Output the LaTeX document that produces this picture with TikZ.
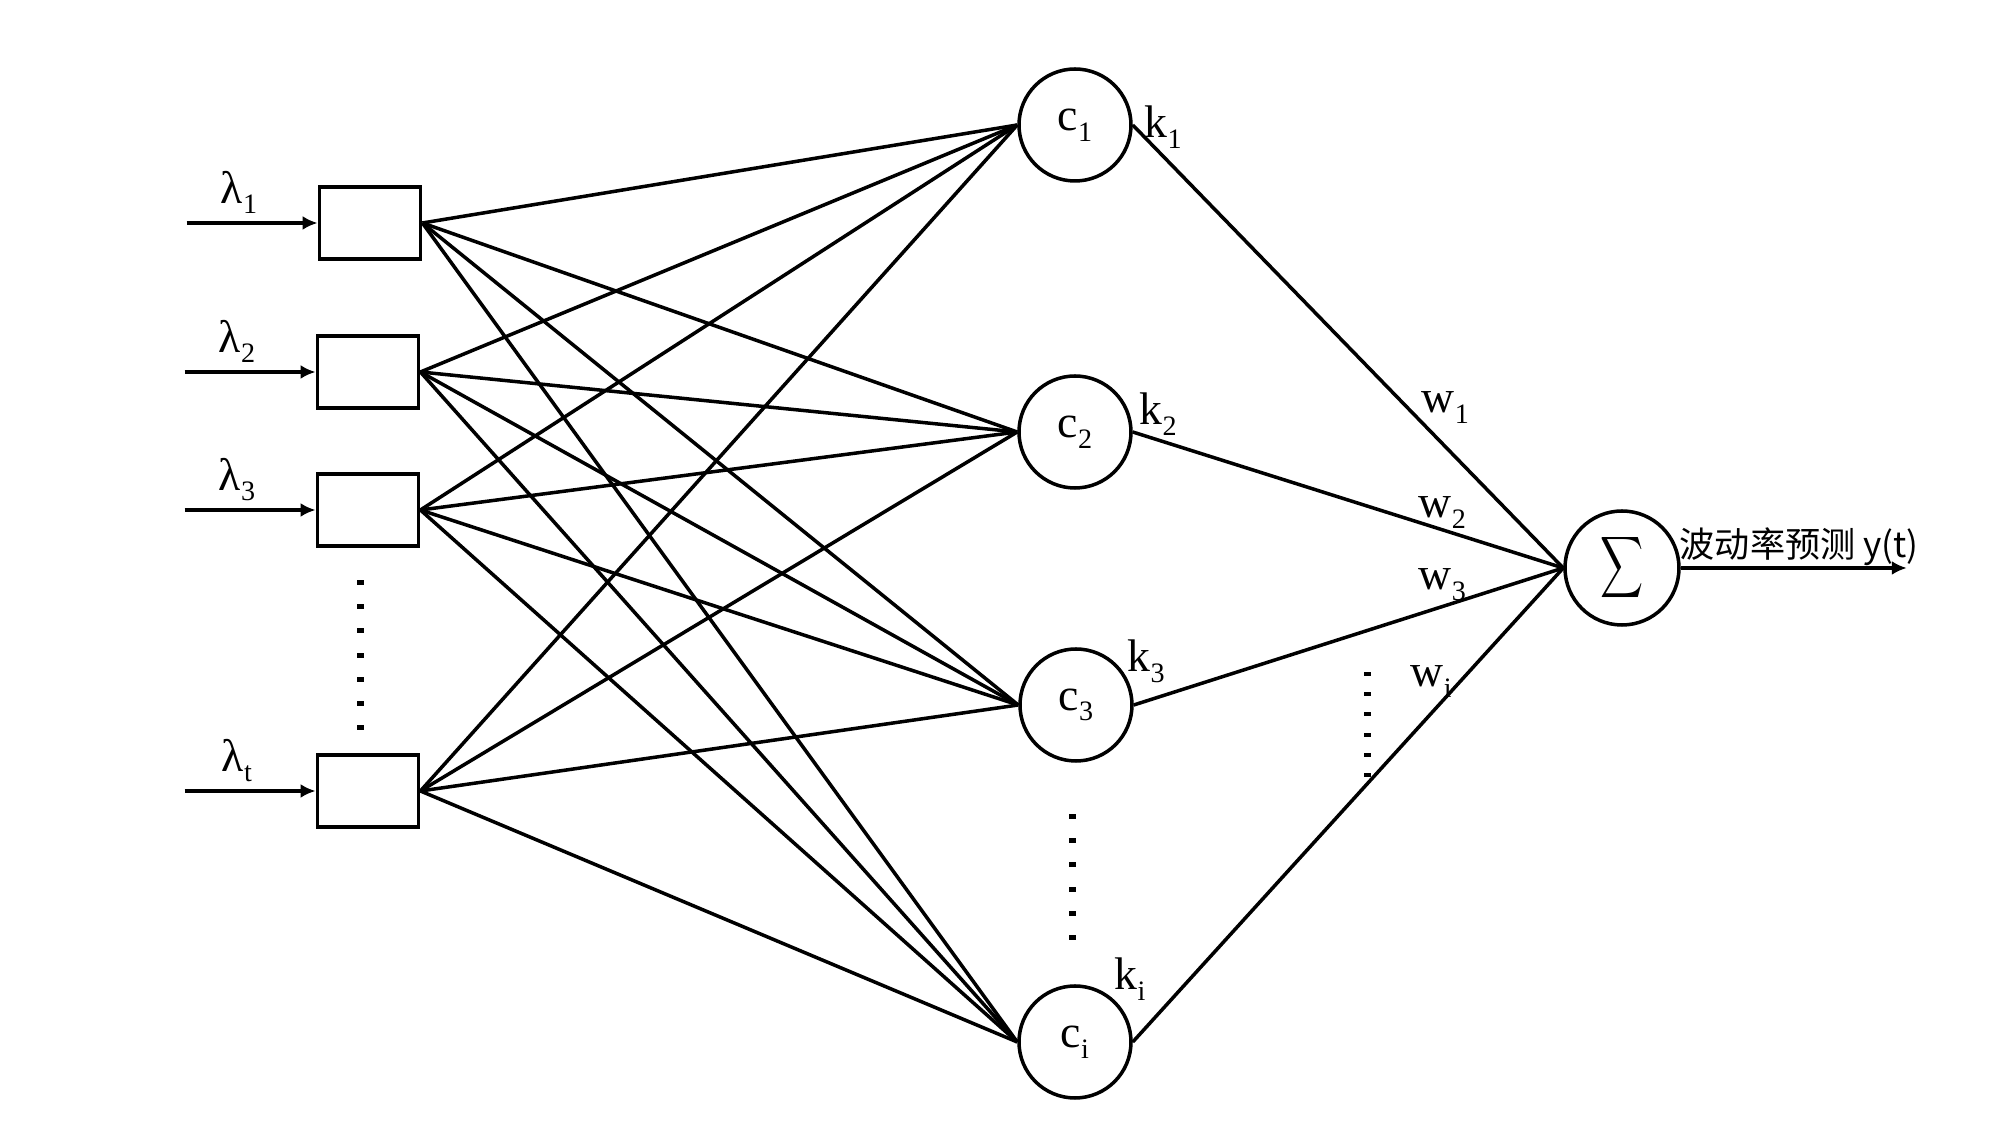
\documentclass[tikz,border=0pt]{standalone}
\usepackage{fontspec}
\setmainfont{Liberation Serif}
\newfontfamily\cjk{Noto Sans CJK SC}
\usepackage{graphicx}
\usepackage{tikz}
\usetikzlibrary{arrows.meta, positioning}
\newcommand{\subidx}[2]{#1\raisebox{-3pt}{\fontsize{8}{9}\selectfont #2}}
\tikzset{
  block/.style={draw, line width=1.1pt, fill=white, rectangle, minimum width=10.1mm, minimum height=7.2mm, inner sep=0pt},
  unit/.style={draw, line width=1pt, circle, minimum size=11.2mm, inner sep=0pt, font=\fontsize{13}{15}\selectfont},
  lbl/.style={anchor=base west, inner sep=0pt, font=\fontsize{13}{15}\selectfont}
}

\begin{document}
\begin{tikzpicture}[x=0.1mm, y=-0.1mm, >={Latex[length=1.5mm,width=1.4mm]}, line width=1pt]
  \useasboundingbox (0,0) rectangle (2000,1137);
  % input boxes
  \node[block] (b1) at (370,223) {};
  \node[block] (b2) at (368,372) {};
  \node[block] (b3) at (368,510) {};
  \node[block] (bt) at (368,791) {};
  % hidden units
  \node[unit] (c1) at (1075,125) {\subidx{c}{1}};
  \node[unit] (c2) at (1075,432) {\subidx{c}{2}};
  \node[unit] (c3) at (1076,705) {\subidx{c}{3}};
  \node[unit] (ci) at (1075,1042) {\subidx{c}{i}};
  % output unit
  \node[unit, minimum size=11.4mm] (sum) at (1622,568) {\scalebox{0.85}[1.22]{$\displaystyle\sum$}};
  \coordinate[right=22.6mm of sum.east] (out);

  \foreach \b/\n in {b1/1, b2/2, b3/3, bt/t} {
    \coordinate[left=13.1mm of \b.west] (in\n);
    \draw[->, line width=1.2pt] (in\n) -- node[above, pos=.4, inner sep=2pt, font=\fontsize{13}{15}\selectfont] {\subidx{λ}{\n}} (\b.west);
  }
  \foreach \b in {b1,b2,b3,bt}
    \foreach \c in {c1,c2,c3,ci}
      \draw (\b.east) -- (\c.west);
  \foreach \c in {c1,c2,c3,ci}
    \draw (\c.east) -- (sum.west);
  \draw[->, line width=1.2pt] (sum.east) -- (out);

  % labels
  \node[lbl] (k1) at (1143,138) {\subidx{k}{1}};
  \node[lbl] (k2) at (1138,425) {\subidx{k}{2}};
  \node[lbl] (k3) at (1126,672) {\subidx{k}{3}};
  \node[lbl] (ki) at (1113,990) {\subidx{k}{i}};
  \node[lbl] (w1) at (1420,413) {\subidx{w}{1}};
  \node[lbl] (w2) at (1417,518) {\subidx{w}{2}};
  \node[lbl] (w3) at (1417,590) {\subidx{w}{3}};
  \node[lbl] (wi) at (1409,687) {\subidx{w}{i}};
  \node[anchor=base west, inner sep=0pt, font=\cjk\fontsize{10}{12}\selectfont] (ytxt) at (1678,558) {波动率预测 y(t)};

  % dots
  \foreach \j in {0,...,6} \fill (357,580+24.2*\j) rectangle ++(7,5);
  \foreach \j in {0,...,5} \fill (1069,814+24.2*\j) rectangle ++(7,5);
  \foreach \j in {0,...,5} \fill (1364,672+20.2*\j) rectangle ++(7,4);
\end{tikzpicture}
\end{document}
